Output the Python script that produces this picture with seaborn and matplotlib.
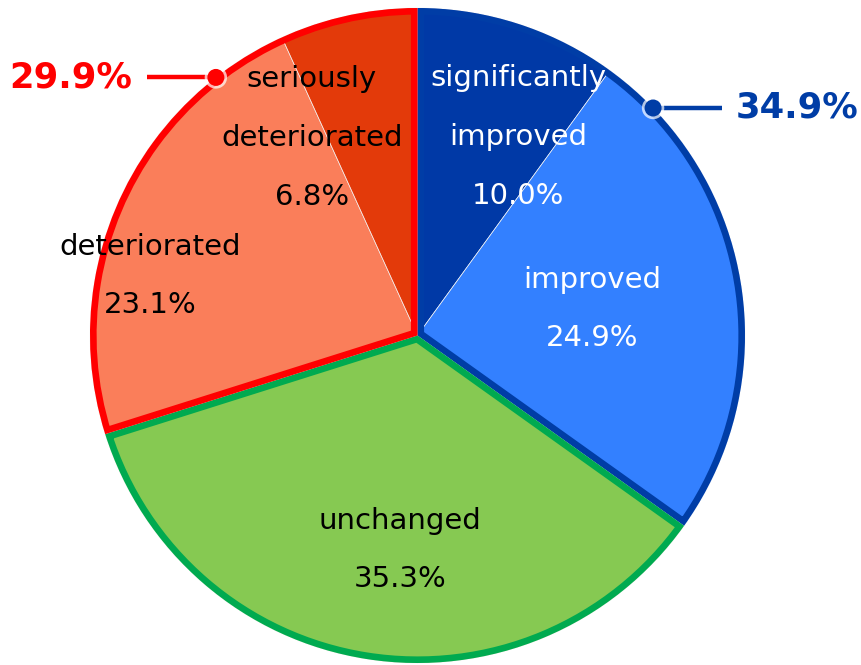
import matplotlib
matplotlib.use("Agg")
import matplotlib.pyplot as plt
from matplotlib.patches import Wedge
import numpy as np
import seaborn as sns

# Survey shares (percent), clockwise from 12 o'clock
categories = ["significantly\nimproved", "improved", "unchanged",
              "deteriorated", "seriously\ndeteriorated"]
values = [10.0, 24.9, 35.3, 23.1, 6.8]
slice_colors = ["#0039A6", "#3380FF", "#86C952", "#FA7E5A", "#E33A0A"]
text_colors = ["white", "white", "black", "black", "black"]

# Groups drawn with an inner outline: (first slice, last slice, colour)
groups = [(0, 1, "#003DA6"), (2, 2, "#00AA50"), (3, 4, "#FF0000")]
group_totals = [34.9, 35.3, 29.9]

sns.set_theme(style="white")
plt.rcParams["font.family"] = ["DejaVu Sans"]

fig = plt.figure(figsize=(8.61, 6.65), dpi=100)
ax = fig.add_axes([0, 0, 1, 1])
R_PX = 327.5
cx, cy = 417.5, 335.5

wedges, _ = ax.pie(values, colors=slice_colors, startangle=90, counterclock=False,
                   radius=1.0, center=(0, 0), frame=True,
                   wedgeprops=dict(edgecolor="#F4F4F4", linewidth=0.5))
ax.set_xlim(-cx / R_PX, (861 - cx) / R_PX)
ax.set_ylim(-(665 - cy) / R_PX, cy / R_PX)
ax.axis("off")

# Inner outlines around groups of slices
for first, last, col in groups:
    t2 = wedges[first].theta2
    t1 = wedges[last].theta1
    w = Wedge((0, 0), 1.0, t1, t2, facecolor="none", edgecolor=col,
              linewidth=9.5, joinstyle="miter", zorder=3)
    ax.add_patch(w)
    clip = Wedge((0, 0), 1.0, t1, t2, transform=ax.transData)
    w.set_clip_path(clip)

# Slice labels: (pixel x, pixel y of the block centre)
label_px = [(518, 137), (592, 309), (400, 550), (150, 276), (312, 138)]
for cat, val, tc, (px, py) in zip(categories, values, text_colors, label_px):
    x = (px - cx) / R_PX
    y = (cy - py) / R_PX
    ax.text(x, y, f"{cat}\n{val:.1f}%", ha="center", va="center",
            fontsize=21, color=tc, linespacing=2.4, zorder=5)

# Group-total callouts
callouts = [
    # (group index, angle of dot in degrees, line end x, text x, alignment)
    (0, 44.0, (722 - cx) / R_PX, (736 - cx) / R_PX, "left"),
    (2, 128.0, (147 - cx) / R_PX, (132 - cx) / R_PX, "right"),
]
for gi, ang, lx, tx, ha in callouts:
    col = groups[gi][2]
    a = np.deg2rad(ang)
    dx, dy = np.cos(a), np.sin(a)
    ax.plot([dx, lx], [dy, dy], color=col, linewidth=3.2, zorder=6,
            solid_capstyle="butt")
    ax.scatter([dx], [dy], s=260, color="white", edgecolor="none",
               alpha=0.7, zorder=6.5)
    ax.scatter([dx], [dy], s=150, color=col, edgecolor="none", zorder=7)
    ax.text(tx, dy, f"{group_totals[gi]:.1f}%", ha=ha, va="center",
            fontsize=25.5, fontweight="bold", color=col, zorder=7)

fig.savefig("out.png", dpi=100)
